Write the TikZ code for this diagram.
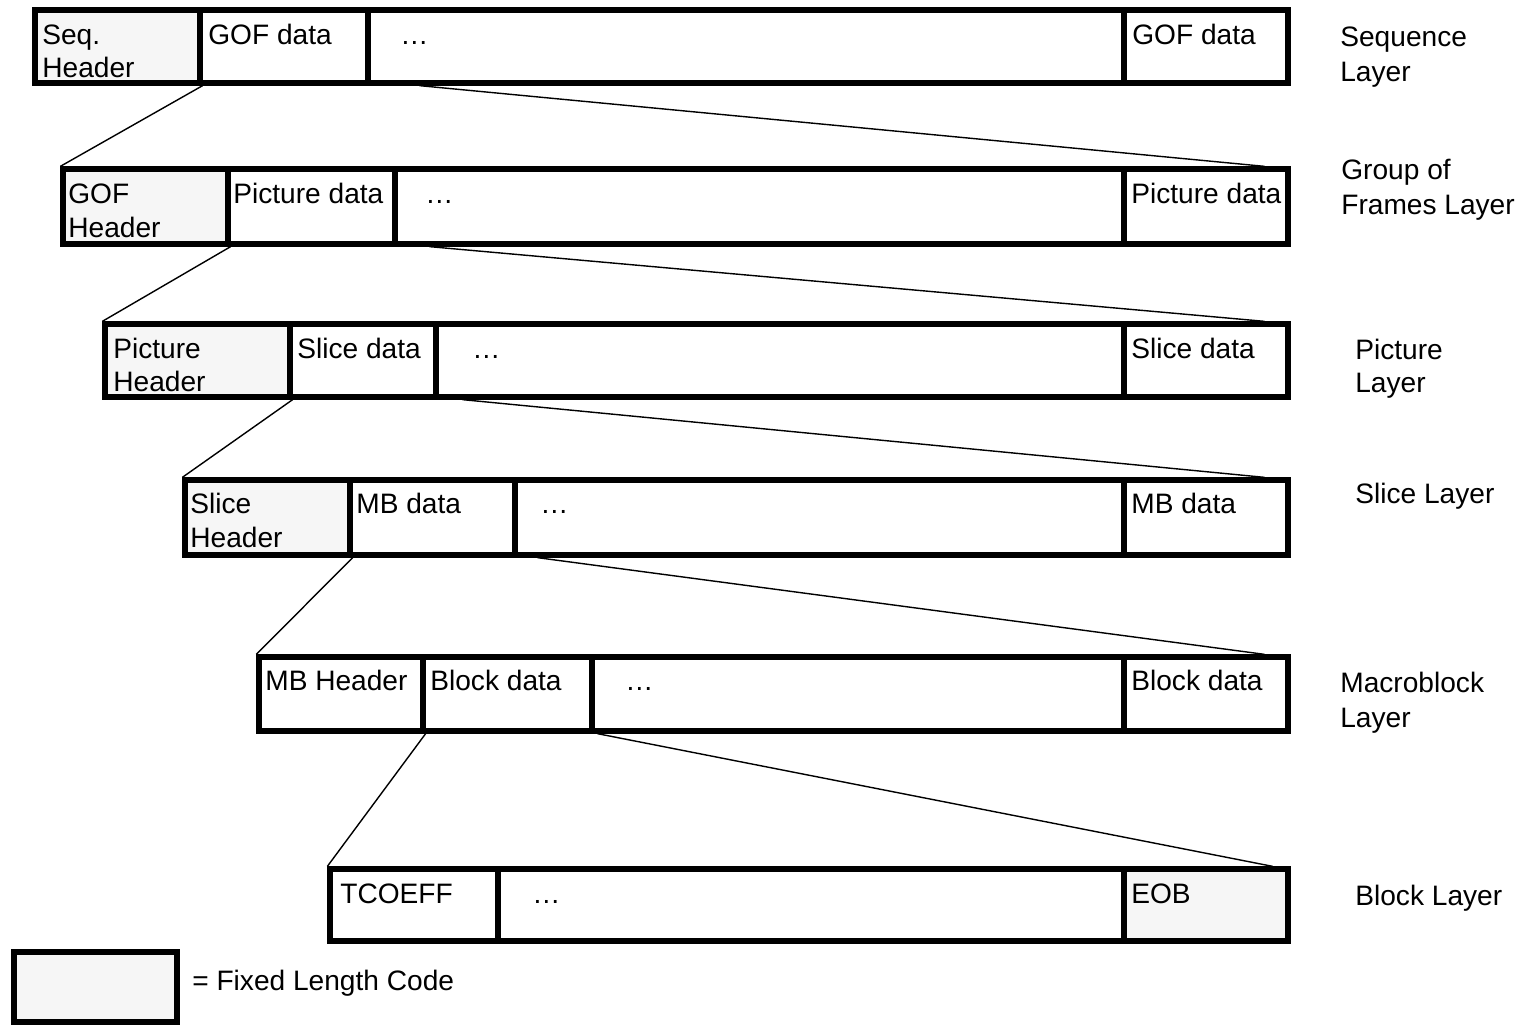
\documentclass[tikz,border=0pt]{standalone}
\usepackage{fontspec}
\setmainfont{Liberation Sans}
\usetikzlibrary{fit}
\definecolor{flc}{RGB}{246,246,246}
\begin{document}
\begin{tikzpicture}[x=0.02cm,y=-0.02cm,
  cellbox/.style={draw=black, line width=3pt, inner sep=0pt, rectangle},
  fixedbox/.style={cellbox, fill=flc},
  celltxt/.style={anchor=base west, inner sep=0pt, font=\fontsize{16}{18}\selectfont},
  layertxt/.style={anchor=base west, inner sep=0pt, font=\fontsize{16}{19}\selectfont},
  conn/.style={draw=black, line width=0.8pt}]
\useasboundingbox (0,0) rectangle (1528,1026);

% ---------- Row 1: Sequence layer
\node[fixedbox, fit={(35,10) (200,83)}] (a1) {};
\node[cellbox, fit={(200,10) (368,83)}] (a2) {};
\node[cellbox, fit={(368,10) (1124,83)}] (a3) {};
\node[cellbox, fit={(1124,10) (1288,83)}] (a4) {};
\node[celltxt] (ta1) at (42,45) {Seq.};
\node[celltxt] (ta1b) at (42,78) {Header};
\node[celltxt] (ta2) at (208,45) {GOF data};
\node[celltxt] (ta3) at (400,45) {\ldots};
\node[celltxt] (ta4) at (1132,45) {GOF data};

% ---------- Row 2: GOF layer
\node[fixedbox, fit={(63,169) (228,244)}] (b1) {};
\node[cellbox, fit={(228,169) (395,244)}] (b2) {};
\node[cellbox, fit={(395,169) (1124,244)}] (b3) {};
\node[cellbox, fit={(1124,169) (1288,244)}] (b4) {};
\node[celltxt] (tb1) at (68,204) {GOF};
\node[celltxt] (tb1b) at (68,238) {Header};
\node[celltxt] (tb2) at (233,204) {Picture data};
\node[celltxt] (tb3) at (425,204) {\ldots};
\node[celltxt] (tb4) at (1131,204) {Picture data};

% ---------- Row 3: Picture layer
\node[fixedbox, fit={(105,324) (290,397)}] (c1) {};
\node[cellbox, fit={(290,324) (436,397)}] (c2) {};
\node[cellbox, fit={(436,324) (1124,397)}] (c3) {};
\node[cellbox, fit={(1124,324) (1288,397)}] (c4) {};
\node[celltxt] (tc1) at (113,359) {Picture};
\node[celltxt] (tc1b) at (113,392) {Header};
\node[celltxt] (tc2) at (297,359) {Slice data};
\node[celltxt] (tc3) at (472,359) {\ldots};
\node[celltxt] (tc4) at (1131,359) {Slice data};

% ---------- Row 4: Slice layer
\node[fixedbox, fit={(185,480) (350,555)}] (d1) {};
\node[cellbox, fit={(350,480) (515,555)}] (d2) {};
\node[cellbox, fit={(515,480) (1124,555)}] (d3) {};
\node[cellbox, fit={(1124,480) (1288,555)}] (d4) {};
\node[celltxt] (td1) at (190,514) {Slice};
\node[celltxt] (td1b) at (190,548) {Header};
\node[celltxt] (td2) at (356,514) {MB data};
\node[celltxt] (td3) at (540,514) {\ldots};
\node[celltxt] (td4) at (1131,514) {MB data};

% ---------- Row 5: Macroblock layer
\node[cellbox, fit={(259,657) (423,731)}] (e1) {};
\node[cellbox, fit={(423,657) (592,731)}] (e2) {};
\node[cellbox, fit={(592,657) (1124,731)}] (e3) {};
\node[cellbox, fit={(1124,657) (1288,731)}] (e4) {};
\node[celltxt] (te1) at (265,690) {MB Header};
\node[celltxt] (te2) at (430,690) {Block data};
\node[celltxt] (te3) at (625,690) {\ldots};
\node[celltxt] (te4) at (1131,690) {Block data};

% ---------- Row 6: Block layer
\node[cellbox, fit={(330,869) (498,941)}] (f1) {};
\node[cellbox, fit={(498,869) (1124,941)}] (f2) {};
\node[fixedbox, fit={(1124,869) (1288,941)}] (f3) {};
\node[celltxt] (tf1) at (340,903) {TCOEFF};
\node[celltxt] (tf2) at (532,903) {\ldots};
\node[celltxt] (tf3) at (1131,903) {EOB};

% ---------- Layer labels
\node[layertxt] (la) at (1340,47) {Sequence};
\node[layertxt] (lab) at (1340,82) {Layer};
\node[layertxt] (lb) at (1341,180) {Group of};
\node[layertxt] (lbb) at (1341,215) {Frames Layer};
\node[layertxt] (lc) at (1355,360) {Picture};
\node[layertxt] (lcb) at (1355,393) {Layer};
\node[layertxt] (ld) at (1355,504) {Slice Layer};
\node[layertxt] (le) at (1340,692) {Macroblock};
\node[layertxt] (leb) at (1340,727) {Layer};
\node[layertxt] (lf) at (1355,905) {Block Layer};

% ---------- Legend
\node[fixedbox, fit={(14,952) (177,1022)}] (lg) {};
\node[layertxt] (lgt) at (192,990) {= Fixed Length Code};

% ---------- Connectors
\coordinate (a3s) at ([shift={(54,0)}]a3.south west);
\coordinate (b4n) at ([shift={(-26,0)}]b4.north east);
\coordinate (b3s) at ([shift={(37,0)}]b3.south west);
\coordinate (c4n) at ([shift={(-26,0)}]c4.north east);
\coordinate (c3s) at ([shift={(29,0)}]c3.south west);
\coordinate (d4n) at ([shift={(-26,0)}]d4.north east);
\coordinate (d3s) at ([shift={(25,0)}]d3.south west);
\coordinate (e4n) at ([shift={(-26,0)}]e4.north east);
\coordinate (e3s) at ([shift={(8,0)}]e3.south west);
\coordinate (f3n) at ([shift={(-18,0)}]f3.north east);

\draw[conn] (a1.south east) -- (b1.north west);
\draw[conn] (a3s) -- (b4n);
\draw[conn] (b1.south east) -- (c1.north west);
\draw[conn] (b3s) -- (c4n);
\draw[conn] (c1.south east) -- (d1.north west);
\draw[conn] (c3s) -- (d4n);
\draw[conn] (d1.south east) -- (e1.north west);
\draw[conn] (d3s) -- (e4n);
\draw[conn] (e1.south east) -- (f1.north west);
\draw[conn] (e3s) -- (f3n);
\end{tikzpicture}
\end{document}
